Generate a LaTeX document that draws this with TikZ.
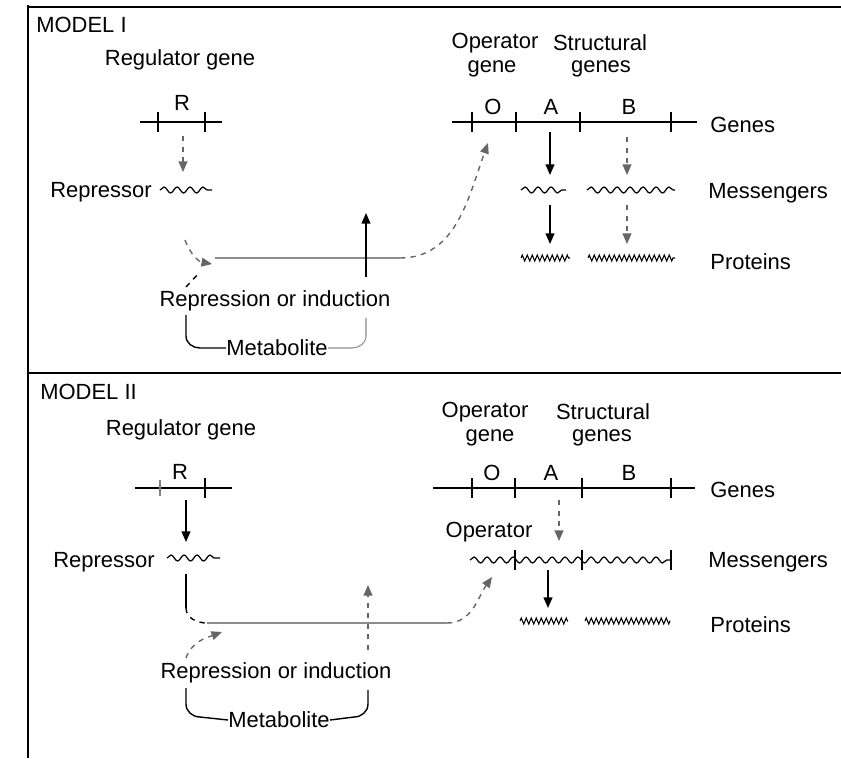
\documentclass[tikz,border=0pt]{standalone}
\usepackage{fontspec}
\setmainfont{Liberation Sans}
\usetikzlibrary{arrows.meta,decorations.pathmorphing,positioning}
\tikzset{
	lbl/.style={font=\fontsize{12.5}{14}\selectfont, inner sep=0pt},
	gene/.style={line width=0.9pt},
	tickmark/.style={line width=0.9pt},
	mrna/.style={decorate, decoration={snake, segment length=0.26cm, amplitude=0.06cm}, line width=0.7pt},
	prot/.style={decorate, decoration={zigzag, segment length=0.1cm, amplitude=0.06cm}, line width=0.6pt},
	arr/.style={-{Triangle[length=6pt,width=5pt]}, line width=0.8pt},
	darr/.style={arr, dashed, black!60},
	faint/.style={line width=0.6pt, black!45},
}

\begin{document}
\begin{tikzpicture}[x=0.02cm, y=-0.02cm]
			%%%%% START %%%%%
			\useasboundingbox (0,0) rectangle (841,758);
			
			% frame
			\draw[line width=1.2pt] (28,5) -- (28,758);
			\draw[line width=1.2pt] (28,7) -- (841,7);
			\draw[line width=1.2pt] (28,373) -- (841,373);
			
			%%%%% MODEL I %%%%%
			\node[lbl, anchor=west] (modelA) at (36,25) {MODEL I};
			\node[lbl] (regA) at (180,60) {Regulator gene};
			
			\draw[gene] (140,122) -- (222,122);
			\draw[tickmark] (158,112) -- (158,132);
			\draw[tickmark] (205,112) -- (205,132);
			\node[lbl] (rA) at (182,103) {R};
			
			\coordinate (rgA) at (183,136);
			\coordinate (rpA) at (183,172);
			\draw[darr] (rgA) -- (rpA);
			
			\node[lbl, anchor=east] (repA) at (152,192) {Repressor};
			\draw[mrna] (160,190) -- (212,190);
			
			\coordinate (loopA) at (185,240);
			\coordinate (joinA) at (212,264);
			\coordinate (lineA) at (400,258);
			\coordinate (opA) at (488,143);
			\draw[darr] (loopA) to[out=-70, in=170] (joinA);
			\draw[dashed, line width=0.8pt] (186,287) -- (200,272);
			\draw[faint] (215,258) -- (lineA);
			\draw[darr] (lineA) to[out=0, in=-110] (opA);
			
			\node[lbl] (riA) at (275,301) {Repression or induction};
			\coordinate (upA) at (366,277);
			\coordinate (upAend) at (366,213);
			\draw[arr] (upA) -- (upAend);
			
			\node[lbl] (metA) at (277,348) {Metabolite};
			\draw[line width=0.8pt] (186,315) -- (186,336) to[out=-90, in=180] (200,348) -- (metA.west);
			\draw[faint] (metA.east) -- (352,348) to[out=0, in=-90] (366,336) -- (366,318);
			
			\node[lbl] (opgA) at (495,43) {Operator};
			\node[lbl] at (492,69) {gene};
			\node[lbl] (stA) at (600,43) {Structural};
			\node[lbl] at (601,69) {genes};
			
			\draw[gene] (452,122) -- (697,122);
			\foreach \x in {472,516,580,671}
				\draw[tickmark] (\x,112) -- (\x,132);
			\node[lbl] (oA) at (493,107) {O};
			\node[lbl] (aA) at (551,107) {A};
			\node[lbl] (bA) at (629,107) {B};
			\node[lbl, anchor=west] (genesA) at (710,125) {Genes};
			
			\draw[arr] (550,132) -- (550,175);
			\draw[darr] (627,137) -- (627,175);
			\draw[mrna] (521,190) -- (566,190);
			\draw[mrna] (587,190) -- (675,190);
			\node[lbl, anchor=west] (messA) at (708,193) {Messengers};
			
			\draw[arr] (550,205) -- (550,244);
			\draw[darr] (627,205) -- (627,244);
			\draw[prot] (521,258) -- (570,258);
			\draw[prot] (588,258) -- (675,258);
			\node[lbl, anchor=west] (protA) at (710,262) {Proteins};
			
			%%%%% MODEL II %%%%%
			\node[lbl, anchor=west] (modelB) at (40,392) {MODEL II};
			\node[lbl] (regB) at (181,430) {Regulator gene};
			
			\draw[gene] (135,488) -- (232,488);
			\draw[tickmark, black!50] (160,480) -- (160,496);
			\draw[tickmark] (205,478) -- (205,498);
			\node[lbl] (rB) at (180,472) {R};
			
			\coordinate (rgB) at (186,500);
			\coordinate (rpB) at (186,542);
			\draw[arr] (rgB) -- (rpB);
			
			\node[lbl, anchor=east] (repB) at (155,562) {Repressor};
			\draw[mrna] (167,558) -- (220,558);
			
			\coordinate (loopB) at (186,574);
			\coordinate (bendB) at (186,608);
			\coordinate (joinB) at (207,623);
			\coordinate (lineB) at (447,623);
			\coordinate (opB) at (492,577);
			\draw[line width=0.9pt] (loopB) -- (bendB);
			\draw[dashed, line width=0.8pt] (bendB) to[out=-90, in=180] (joinB);
			\draw[faint] (joinB) -- (lineB);
			\draw[darr] (lineB) to[out=0, in=-125] (opB);
			
			\coordinate (riBstart) at (186,658);
			\coordinate (riBend) at (222,632);
			\draw[darr] (riBstart) to[out=70, in=-160] (riBend);
			
			\node[lbl] (riB) at (276,673) {Repression or induction};
			\coordinate (upB) at (368,650);
			\coordinate (upBend) at (368,585);
			\draw[darr] (upB) -- (upBend);
			
			\node[lbl] (metB) at (279,720) {Metabolite};
			\draw[line width=0.8pt] (186,688) -- (186,704) to[out=-90, in=180] (200,717) -- (metB.west);
			\draw[line width=0.8pt] (metB.east) -- (354,717) to[out=0, in=-90] (368,704) -- (368,690);
			
			\node[lbl] (opgB) at (485,412) {Operator};
			\node[lbl] at (490,438) {gene};
			\node[lbl] (stB) at (603,412) {Structural};
			\node[lbl] at (602,438) {genes};
			
			\draw[gene] (433,488) -- (695,488);
			\foreach \x in {472,515,582,671}
				\draw[tickmark] (\x,478) -- (\x,498);
			\node[lbl] (oB) at (492,473) {O};
			\node[lbl] (aB) at (551,473) {A};
			\node[lbl] (bB) at (629,473) {B};
			\node[lbl, anchor=west] (genesB) at (710,490) {Genes};
			
			\draw[darr] (559,500) -- (559,541);
			\node[lbl] (operB) at (489,532) {Operator};
			\draw[mrna] (470,560) -- (670,560);
			\foreach \x in {515,582,671}
				\draw[tickmark] (\x,550) -- (\x,570);
			\node[lbl, anchor=west] (messB) at (708,562) {Messengers};
			
			\draw[arr] (548,570) -- (548,608);
			\draw[prot] (520,621) -- (568,621);
			\draw[prot] (585,621) -- (670,621);
			\node[lbl, anchor=west] (protB) at (710,625) {Proteins};
			
			%%%%% END %%%%%
\end{tikzpicture}
\end{document}
